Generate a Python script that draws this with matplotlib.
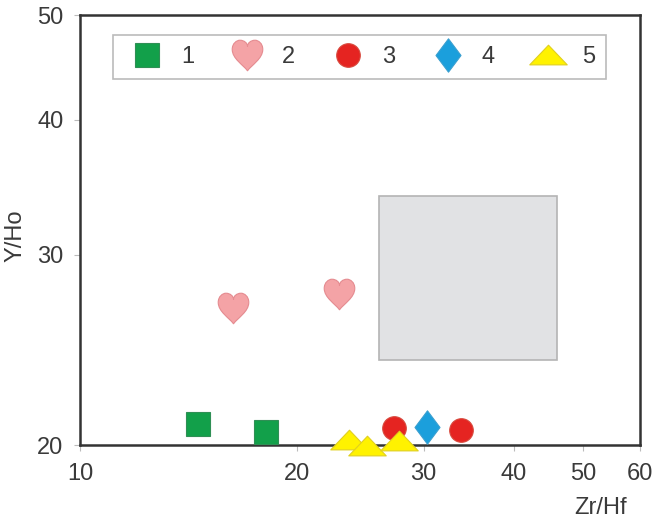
import matplotlib
matplotlib.use("Agg")
import matplotlib.pyplot as plt
from matplotlib.path import Path
from matplotlib.patches import Rectangle
import numpy as np

plt.rcParams['font.family'] = ['Liberation Sans', 'DejaVu Sans']

# ---- data ----
g1_x = [14.6, 18.1]
g1_y = [20.9, 20.55]
g2_x = [16.3, 22.9]
g2_y = [26.8, 27.6]
g3_x = [27.3, 33.8]
g3_y = [20.75, 20.65]
g4_x = [30.3]
g4_y = [20.8]
g5_x = [23.6, 25.0, 27.7]
g5_y = [20.2, 19.97, 20.17]
labels = ['1', '2', '3', '4', '5']

box_x = [26, 46]
box_y = [24, 34]

xticks = [10, 20, 30, 40, 50, 60]
yticks = [20, 30, 40, 50]

# ---- custom markers ----
heart = Path(
    [(0, -1), (-0.3, -0.6), (-1, -0.2), (-1, 0.4),
     (-1, 0.8), (-0.7, 1.0), (-0.5, 1.0),
     (-0.2, 1.0), (0, 0.8), (0, 0.6),
     (0, 0.8), (0.2, 1.0), (0.5, 1.0),
     (0.7, 1.0), (1, 0.8), (1, 0.4),
     (1, -0.2), (0.3, -0.6), (0, -1), (0, -1)],
    [Path.MOVETO] + [Path.CURVE4] * 18 + [Path.CLOSEPOLY])
diamond = Path([(0, 1), (0.75, 0), (0, -1), (-0.75, 0), (0, 1)],
               [Path.MOVETO, Path.LINETO, Path.LINETO, Path.LINETO, Path.CLOSEPOLY])
tri = Path([(-1, -0.5), (1, -0.5), (0, 0.55), (-1, -0.5)],
           [Path.MOVETO, Path.LINETO, Path.LINETO, Path.CLOSEPOLY])

fig = plt.figure(figsize=(6.52, 5.2), dpi=100)
ax = fig.add_axes([0.123, 0.144, 0.859, 0.827])
ax.set_xscale('log')
ax.set_yscale('log')
ax.set_xlim(10, 60)
ax.set_ylim(20, 50)

ax.add_patch(Rectangle((box_x[0], box_y[0]), box_x[1] - box_x[0], box_y[1] - box_y[0],
                       facecolor='#e1e2e4', edgecolor='#b4b4b4', linewidth=1.2, zorder=1))

kw = dict(linestyle='none', clip_on=False, zorder=3)
ax.plot(g1_x, g1_y, marker='s', ms=17, mfc='#12a04a', mec='#2f8f55', mew=0.8, label=labels[0], **kw)
ax.plot(g2_x, g2_y, marker=heart, ms=22, mfc='#f4a3a6', mec='#e58b90', mew=0.8, label=labels[1], **kw)
ax.plot(g3_x, g3_y, marker='o', ms=17, mfc='#e52421', mec='#d84a3e', mew=0.8, label=labels[2], **kw)
ax.plot(g4_x, g4_y, marker=diamond, ms=24, mfc='#1b9fdc', mec='#3a9fd0', mew=0.8, label=labels[3], **kw)
ax.plot(g5_x, g5_y, marker=tri, ms=27, mfc='#fff200', mec='#e0cf20', mew=0.8, label=labels[4], **kw)

for s in ax.spines.values():
    s.set_color('#333333')
    s.set_linewidth(1.8)

ax.xaxis.set_major_locator(matplotlib.ticker.FixedLocator(xticks))
ax.xaxis.set_minor_locator(matplotlib.ticker.NullLocator())
ax.set_xticklabels([str(v) for v in xticks])
ax.yaxis.set_major_locator(matplotlib.ticker.FixedLocator(yticks))
ax.yaxis.set_minor_locator(matplotlib.ticker.NullLocator())
ax.set_yticklabels([str(v) for v in yticks])
ax.tick_params(axis='both', direction='out', length=4, width=0.8, color='#bbbbbb',
               labelsize=17, labelcolor='#3a3a3a', pad=8)
ax.tick_params(axis='x', pad=9)

leg = ax.legend(ncol=5, loc='upper center', bbox_to_anchor=(0.059, 0.853, 0.879, 0.1),
                mode='expand', frameon=True, fancybox=False, fontsize=17,
                handletextpad=0.45, columnspacing=1.0, borderpad=0.45, borderaxespad=0.0,
                numpoints=1, markerscale=1.0, handlelength=2.0)
leg.get_frame().set_edgecolor('#aaaaaa')
leg.get_frame().set_linewidth(1.2)
for t in leg.get_texts():
    t.set_color('#3a3a3a')

fig.text(601 / 652, 1 - 508 / 520, 'Zr/Hf', ha='center', va='center', fontsize=17, color='#3a3a3a')
fig.text(16 / 652, 1 - 236 / 520, 'Y/Ho', ha='center', va='center', rotation=90, fontsize=17, color='#3a3a3a')

fig.savefig('out.png', dpi=100)
